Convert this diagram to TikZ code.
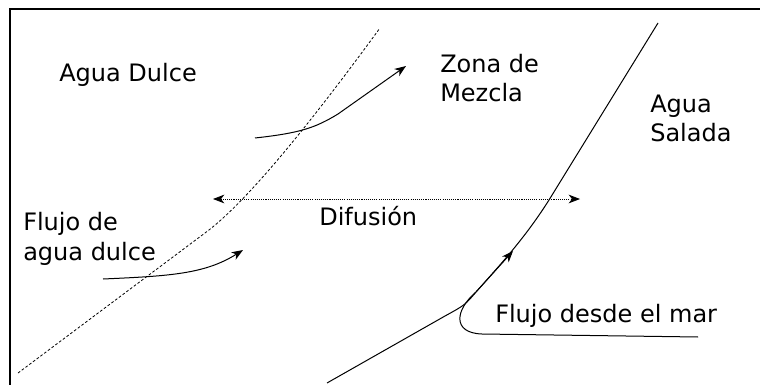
\documentclass[tikz,border=0pt]{standalone}
\usepackage{fontspec}
\setmainfont{DejaVu Sans}
\usetikzlibrary{arrows.meta}

\begin{document}
\begin{tikzpicture}[
  x=0.75pt, y=-0.75pt,
  >={Stealth[length=8.5pt, width=6.5pt, inset=2.5pt]},
  txt/.style={
    font=\fontsize{18}{22}\selectfont,
    inner sep=0pt, align=left, anchor=base west,
  },
  flow/.style={line width=0.75pt, ->},
  border/.style={line width=0.6pt, dash pattern=on 2pt off 1.5pt},
  spread/.style={line width=0.6pt, dash pattern=on 0.8pt off 0.8pt, <->},
]

\useasboundingbox (0,0) rectangle (760,385);
\clip (0,0) rectangle (760,385);

% frame, runs off the right and bottom edge
\draw[line width=1.5pt] (760,9) -| (10,385);

% texts (anchored on the baseline of the last line)
\node[txt] (dulce) at (59,82) {Agua Dulce};
\node[txt] (mezcla) at (440,102) {Zona de\\Mezcla};
\node[txt] (salada) at (650,142) {Agua\\Salada};
\node[txt] (fdulce) at (23,260) {Flujo de\\agua dulce};
\node[txt] (difusion) at (319,225) {Difusión};
\node[txt] (fmar) at (495,322) {Flujo desde el mar};

% fresh water side of the mixing zone (dashed)
\coordinate (db) at (18,373);
\coordinate (dk) at (205,233);
\coordinate (dt) at (380,28);
\draw[border] (db) -- (dk) .. controls (250,200) and (320,110) .. (dt);

% sea water side of the mixing zone
\coordinate (st) at (658,23);
\coordinate (sm) at (549,200);
\coordinate (sb) at (476,292);
\coordinate (sk) at (445,316);
\coordinate (se) at (327,383);
\draw[line width=0.75pt] (st) -- (sm) .. controls (525,238) and (500,265) .. (sb)
  .. controls (465,305) .. (sk) -- (se);

% flow arrows
\coordinate (mz0) at (255,138);
\coordinate (mz1) at (338,114);
\coordinate (mz2) at (406,66);
\draw[flow] (mz0) .. controls (300,133) and (315,128) .. (mz1) -- (mz2);

\coordinate (fd0) at (103,279);
\coordinate (fd1) at (243,250);
\draw[flow] (fd0) .. controls (170,276) and (205,274) .. (fd1);

\coordinate (fm0) at (698,337);
\coordinate (fm1) at (482,334);
\coordinate (fm2) at (513,251);
\draw[flow] (fm0) -- (fm1) .. controls (452,333) and (455,310) .. (sb) -- (fm2);

% diffusion
\coordinate (dfl) at (213,199);
\coordinate (dfr) at (580,199);
\draw[spread] (dfl) -- (dfr);

\end{tikzpicture}
\end{document}
